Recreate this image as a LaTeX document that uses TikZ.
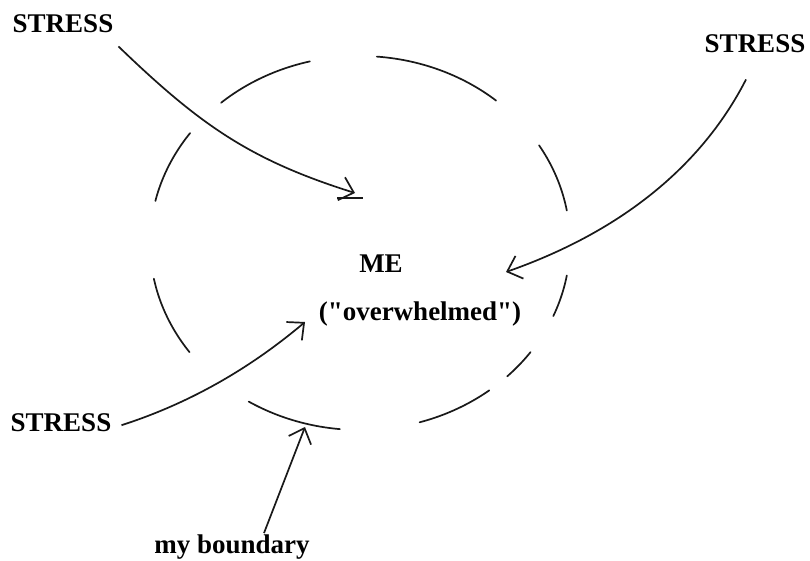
\documentclass[tikz,border=0pt]{standalone}
\usepackage{fontspec}
\setmainfont{Liberation Serif}
\usetikzlibrary{arrows.meta}
\begin{document}
\begin{tikzpicture}[x=1pt,y=-1pt,
  lbl/.style={font=\bfseries\fontsize{27}{32}\selectfont, inner sep=1pt},
  stroke/.style={line width=1.7pt, black!90},
  bnd/.style={stroke, line cap=round},
  arr/.style={stroke, -{Straight Barb[length=13pt,width=24pt]}}]
\useasboundingbox[fill=white] (0,0) rectangle (810,561);
% boundary (dashed ellipse, drawn as arcs)
\foreach \a/\b in {103.8/131.4, 49.6/85.4, 10/31.5, -23/-10, -45.5/-35.7, -73.5/-52, 238/264.5, 191/215.7, 144/167}
  \draw[bnd] plot[domain=\a:\b, samples=25, smooth] ({360+210*cos(\x)},{243-187*sin(\x)});
% labels
\node[lbl, anchor=base] (s1) at (63,33) {STRESS};
\node[lbl, anchor=base] (s2) at (755,53) {STRESS};
\node[lbl, anchor=base] (s3) at (61,431) {STRESS};
\node[lbl, anchor=base] (me) at (381,272) {ME};
\node[lbl, anchor=base] (ov) at (420,320) {(\textquotedbl overwhelmed\textquotedbl)};
\node[lbl, anchor=base] (mb) at (232,553) {my boundary};
% arrow tips
\coordinate (tA) at (355,193);
\coordinate (tB) at (506,272);
\coordinate (tC) at (305,322);
\coordinate (tD) at (305,427);
% arrows
\draw[arr] ([shift={(4,12)}]s1.south east) .. controls (200,125) and (250,160) .. (tA);
\draw[stroke] ([shift={(-18,5)}]tA) -- ++(26,0);
\draw[arr] ([shift={(-9,25)}]s2.south) .. controls (710,150) and (640,225) .. (tB);
\draw[arr] ([shift={(9,3)}]s3.east) .. controls (200,400) and (260,360) .. (tC);
\draw[arr] ([shift={(32,0)}]mb.north) -- (tD);
\end{tikzpicture}
\end{document}
